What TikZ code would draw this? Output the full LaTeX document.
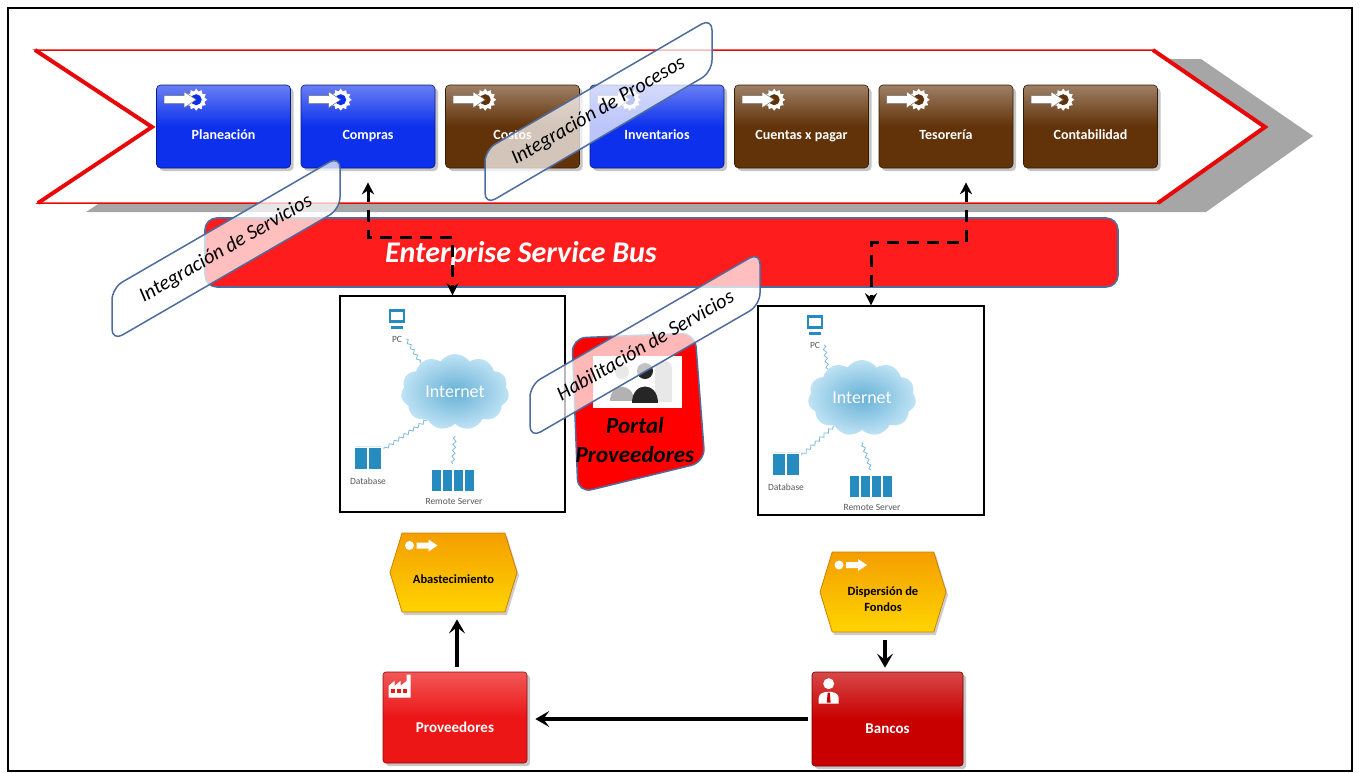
\documentclass[tikz,border=0pt]{standalone}
\usepackage{fontspec}
\setmainfont{Carlito}
\usetikzlibrary{positioning,calc,arrows.meta,shadows,shapes.geometric,shapes.symbols,decorations.pathmorphing}

\definecolor{procblue}{RGB}{12,48,236}
\definecolor{procbrown}{RGB}{98,50,8}
\definecolor{esbred}{RGB}{255,28,28}
\definecolor{edgeblue}{RGB}{78,108,158}
\definecolor{chevred}{RGB}{232,8,8}
\definecolor{shadowgray}{RGB}{166,166,166}
\definecolor{evorange}{RGB}{244,158,0}
\definecolor{evyellow}{RGB}{255,212,0}
\definecolor{evedge}{RGB}{205,128,0}
\definecolor{provred}{RGB}{236,22,22}
\definecolor{bankred}{RGB}{200,0,0}
\definecolor{netblue}{RGB}{38,140,192}
\definecolor{cloudblue}{RGB}{112,192,232}

\newcommand{\fsz}[2]{\fontsize{#1}{#2}\selectfont}

% gear with an arrow going into it, top-left corner of a process box
\newcommand{\gearicon}[2]{%
  \node[star, star points=12, star point ratio=1.3, fill=white, inner sep=0pt, minimum size=22pt] (#1-gear) at (#1) {};
  \fill[#2] (#1) circle (5.5);
  \fill[white, draw=black!55, line width=0.5pt] ($(#1)+(-32,-4)$) -- ++(20,0) -- ++(0,-4) -- ++(12,8) -- ++(-12,8) -- ++(0,-4) -- ++(-20,0) -- cycle;
}

\tikzset{
  procbox/.style={rectangle, rounded corners=4pt, minimum width=134pt, minimum height=83pt,
    draw=#1!55!black, line width=0.6pt, top color=#1!62!white, bottom color=#1, middle color=#1,
    text=white, font=\fsz{14}{16}\bfseries, text height=25pt, text depth=0pt,
    drop shadow={shadow xshift=3pt, shadow yshift=-3pt, opacity=0.45}},
  actbox/.style={rectangle, rounded corners=3pt,
    draw=#1!60!black, line width=0.6pt, top color=#1!72!white, bottom color=#1, middle color=#1,
    text=white, font=\fsz{15}{17}\bfseries, text height=29pt, text depth=0pt,
    drop shadow={shadow xshift=3pt, shadow yshift=-3pt, opacity=0.45}},
  evt/.style={signal, signal to=east and west, signal pointer angle=146,
    top color=evorange, bottom color=evyellow, draw=evedge, line width=0.8pt,
    drop shadow={shadow xshift=2pt, shadow yshift=-3pt, opacity=0.4}},
  evtlbl/.style={font=\fsz{12.5}{16}\bfseries, align=center, inner sep=0pt},
  esbbar/.style={rectangle, rounded corners=12pt, minimum width=913pt, minimum height=69pt,
    fill=esbred, draw=edgeblue, line width=1.6pt},
  netbox/.style={rectangle, draw=black, line width=1.4pt, fill=white},
  netcloud/.style={cloud, cloud puffs=11, cloud puff arc=110, aspect=1.45,
    minimum width=108pt, minimum height=76pt,
    inner color=cloudblue!92!black, outer color=cloudblue!45!white,
    text=white, font=\fsz{18}{20}},
  pcscreen/.style={rectangle, draw=netblue, line width=2.4pt, fill=white,
    minimum width=14pt, minimum height=11pt, inner sep=0pt},
  dbcyl/.style={cylinder, shape border rotate=90, aspect=0.35, draw=white, line width=0.6pt,
    cylinder uses custom fill, cylinder body fill=netblue, cylinder end fill=netblue!55!white,
    minimum width=13pt, minimum height=22pt, inner sep=0pt},
  srvbox/.style={rectangle, fill=netblue, draw=white, line width=0.5pt,
    minimum width=10pt, minimum height=22pt, inner sep=0pt},
  netlabel/.style={font=\fsz{9.5}{11}, text=black!65, inner sep=1pt},
  netlink/.style={draw=netblue!60, line width=0.8pt, decorate,
    decoration={zigzag, segment length=6pt, amplitude=1.5pt}},
  slantbox/.style={draw=edgeblue, line width=1.5pt, fill=white, fill opacity=0.72, rounded corners=12pt},
  slanttext/.style={rotate=30, font=\fsz{20.5}{22}\itshape, inner sep=0pt},
  busarrow/.style={line width=3pt, dash pattern=on 12pt off 8pt,
    {Stealth[length=12pt,width=12pt,inset=4pt]}-{Stealth[length=12pt,width=12pt,inset=4pt]}},
  flowarrow/.style={line width=3.5pt, -{Stealth[length=14pt,width=16pt,inset=6pt]}},
}

\begin{document}
\begin{tikzpicture}[x=1pt, y=-1pt]

\useasboundingbox (0,0) rectangle (1361,772);
\draw[line width=1.2pt] (8,8) rectangle (1352,771);

% Draw the process chevron and its shadow
\fill[shadowgray] (83,59) -- (1201,59) -- (1313,136) -- (1206,212) -- (86,212) -- (200,136) -- cycle;
\draw[chevred, line width=1.5pt, fill=white] (35,50) -- (1153,50) -- (1265,127) -- (1158,203) -- (38,203) -- (152,127) -- cycle;
\draw[chevred, line width=4pt] (35,50) -- (152,127) -- (38,203);
\draw[chevred, line width=4pt] (1153,50) -- (1265,127) -- (1158,203);

% Process boxes
\foreach \nm/\txt/\col [count=\i from 0] in {plan/Planeación/procblue, compras/Compras/procblue,
    costos/Costos/procbrown, invent/Inventarios/procblue, cxp/Cuentas x pagar/procbrown,
    tesor/Tesorería/procbrown, contab/Contabilidad/procbrown}
{
  \node[procbox=\col] (\nm) at ({223.5+144.5*\i},126.5) {\txt};
  \coordinate (\nm-ic) at ([shift={(40,15)}]\nm.north west);
  \gearicon{\nm-ic}{\col}
}

% Enterprise service bus
\node[esbbar] (esb) at (661.5,252.5) {};
\node[text=white, font=\fsz{30}{34}\bfseries\itshape] (esb-lbl) at (521,254) {Enterprise Service Bus};

% Network boxes
\node[netbox, minimum width=225pt, minimum height=216pt] (lnet) at (452.5,404) {};
\node[netbox, minimum width=226pt, minimum height=209pt] (rnet) at (871,410.5) {};

\foreach \nb/\bx/\by/\cx in {lnet/340/296/115, rnet/758/302/104}
{
  \begin{scope}[shift={(\bx,\by)}]
    \node[netcloud] (\nb-cloud) at (\cx,96) {Internet};
    \node[pcscreen] (\nb-pc) at (57,20) {};
    \fill[netblue] ($(\nb-pc.south)+(-6,3)$) rectangle ++(12,3);
    \node[netlabel] (\nb-pcl) at (57,43) {PC};
    \node[dbcyl] (\nb-db1) at (21,162) {};
    \node[dbcyl] (\nb-db2) at (35,162) {};
    \node[netlabel] (\nb-dbl) at (28,185) {Database};
    \foreach \k in {0,...,3}
      \node[srvbox] (\nb-srv\k) at (96+11*\k,184) {};
    \node[netlabel] (\nb-srvl) at (114,205) {Remote Server};
    % links to the cloud
    \draw[netlink] ([xshift=3pt]\nb-pcl.east) -- (\nb-cloud.140);
    \draw[netlink] ([shift={(2,-2)}]\nb-db2.north east) -- (\nb-cloud.225);
    \draw[netlink] ([yshift=5pt]\nb-srv2.north west) -- ([yshift=-12pt]\nb-cloud.south);
  \end{scope}
}

% Supplier portal
\draw[edgeblue, line width=1.5pt, fill=red, rounded corners=14pt] (572,338) -- (695,333) -- (705,462) -- (578,493) -- cycle;
\node[fill=white, minimum width=89pt, minimum height=52pt, inner sep=0pt] (portal-img) at (637.5,382) {};
\fill[gray!60] (622,372) circle (7);
\fill[gray!60] (610,401) .. controls (610,382) and (634,382) .. (634,401) -- cycle;
\fill[gray!18] (655,402) -- (655,368) .. controls (655,358) and (672,358) .. (672,368) -- (672,402) -- cycle;
\fill[black!85] (645,371) circle (8);
\fill[black!85] (632,403) .. controls (632,381) and (658,381) .. (658,403) -- cycle;
\node[font=\fsz{23}{29}\bfseries\itshape, align=center] (portal-lbl) at (635,440) {Portal\\Proveedores};

% Slanted labels
\draw[slantbox] (485,205) -- (485,150) -- (712,18) -- (712,72) -- cycle;
\node[slanttext] (procesos-lbl) at (598.5,111) {Integración de Procesos};
\draw[slantbox] (112,341) -- (112,288) -- (340,156) -- (340,209) -- cycle;
\node[slanttext] (servicios-lbl) at (226,249) {Integración de Servicios};
\draw[slantbox] (530,438) -- (530,385) -- (760,252) -- (760,305) -- cycle;
\node[slanttext] (habilita-lbl) at (645,345) {Habilitación de Servicios};

% Dashed links through the bus
\draw[busarrow] ([yshift=-14pt]compras.south) |- ([yshift=58pt]lnet.north) -- (lnet.north);
\draw[busarrow] ([xshift=20pt,yshift=-14pt]tesor.south) |- ([yshift=63pt]rnet.north) -- (rnet.north);

% Events
\node[evt, minimum width=127pt, minimum height=79pt] (abast) at (453.5,572.5) {};
\node[evtlbl] (abast-lbl) at ([yshift=-7pt]abast.center) {Abastecimiento};
\node[evt, minimum width=126pt, minimum height=80pt] (dispers) at (883,592) {};
\node[evtlbl] (dispers-lbl) at ([yshift=-7pt]dispers.center) {Dispersión de\\Fondos};
\foreach \ev in {abast, dispers}
{
  \fill[white] ([shift={(-44,-27)}]\ev.center) circle (4.5);
  \fill[white] ([shift={(-37,-30)}]\ev.center) -- ++(12,0) -- ++(0,-3) -- ++(9,6) -- ++(-9,6) -- ++(0,-3) -- ++(-12,0) -- cycle;
}

% Suppliers and banks
\node[actbox=provred, minimum width=144pt, minimum height=91pt] (prov) at (455,717.5) {Proveedores};
\node[actbox=bankred, minimum width=151pt, minimum height=94pt] (banco) at (887.5,719) {Bancos};
\fill[white] ([shift={(6,26)}]prov.north west) -- ++(0,-12) -- ++(6,-5) -- ++(0,5) -- ++(6,-5) -- ++(0,5) -- ++(6,-5) -- ++(0,-6) -- ++(4,0) -- ++(0,23) -- cycle;
\foreach \w in {0,1,2}
  \fill[provred] ([shift={(8+6*\w,17)}]prov.north west) rectangle ++(4,4);
\fill[white] ([shift={(17,12)}]banco.north west) circle (5.5);
\fill[white] ([shift={(7,32)}]banco.north west) -- ++(0,-6) .. controls +(0,-8) and +(0,-8) .. ++(20,0) -- ++(0,6) -- cycle;
\fill[bankred] ([shift={(16,21)}]banco.north west) -- ++(2,0) -- ++(1,10) -- ++(-4,0) -- cycle;

% Flow arrows
\draw[flowarrow, shorten <=5pt, shorten >=7pt] ([xshift=2pt]prov.north) -- ([xshift=2pt]prov.north |- abast.south);
\draw[flowarrow, shorten <=8pt, shorten >=4pt] ([xshift=2pt]dispers.south) -- ([xshift=2pt]dispers.south |- banco.north);
\draw[flowarrow, shorten <=4pt, shorten >=8pt] (banco.west) -- (banco.west -| prov.east);

\end{tikzpicture}
\end{document}
